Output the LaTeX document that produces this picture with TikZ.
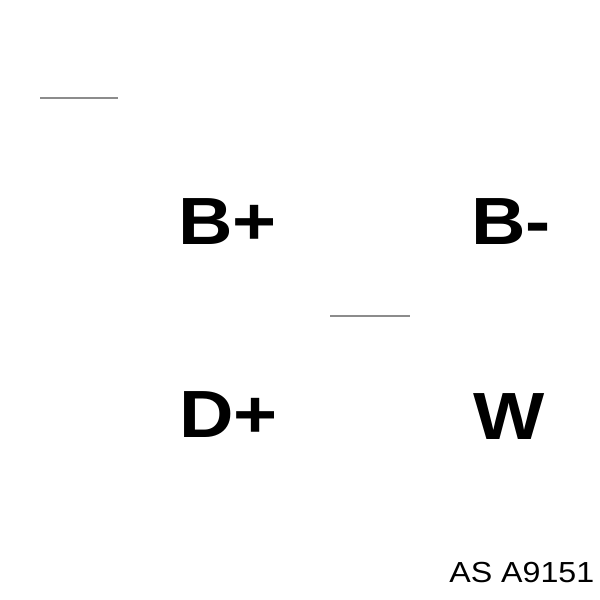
\documentclass[tikz,border=0pt]{standalone}
\usepackage{fontspec}
\setmainfont{Liberation Sans}
\usetikzlibrary{calc}
\tikzset{
	pinlabel/.style={anchor=base west, inner sep=0pt, xscale=1.13, font=\fontsize{38}{40}\selectfont\bfseries},
	partlabel/.style={anchor=base west, inner sep=0pt, xscale=1.11, font=\fontsize{16.5}{18}\selectfont},
	faintline/.style={line width=0.3mm, color=black!45}
}

\begin{document}
\begin{tikzpicture}
			%%%%% START %%%%%
			
			\useasboundingbox (0, 0) rectangle (12, 12);
			
			\draw[faintline] (0.8, 10.04) -- (2.36, 10.04);
			\draw[faintline] (6.6, 5.68) -- (8.2, 5.68);
			
			\node[pinlabel] (bplus) at (3.56, 7.10) {B+};
			\node[pinlabel] (bminus) at (9.42, 7.10) {B-};
			
			\node[pinlabel] (dplus) at (3.58, 3.24) {D+};
			\node[pinlabel] (wpin) at (9.46, 3.20) {W};
			
			\node[partlabel] (partno) at (8.98, 0.34) {AS A9151};
			
			%%%%% END %%%%%
\end{tikzpicture}
\end{document}
